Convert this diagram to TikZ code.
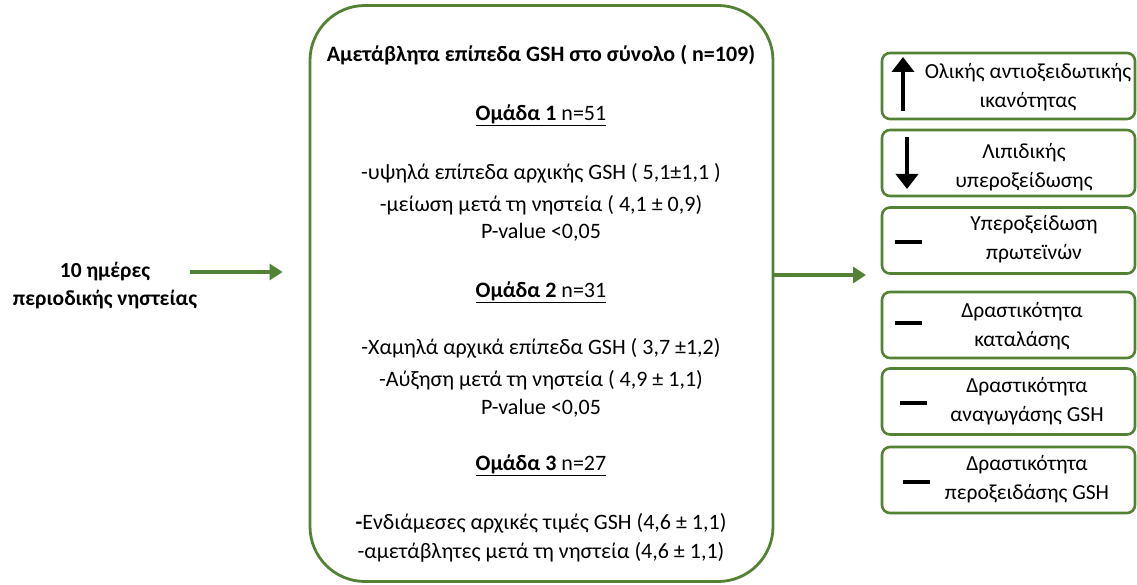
\documentclass[tikz,border=0pt]{standalone}
\usepackage{fontspec}
\setmainfont{Carlito}
\usetikzlibrary{arrows.meta}
\definecolor{BoxClr}{RGB}{84,130,53}

\begin{document}
\begin{tikzpicture}[x=1pt,y=-1pt,
  gline/.style={draw=BoxClr,line width=2.8pt},
  gArrow/.style={BoxClr,line width=3.2pt,-{Triangle[length=13pt,width=16pt]}},
  ctxt/.style={font=\fontsize{22}{26}\selectfont,inner sep=0pt},
  side/.style={gline,line width=2.6pt,rounded corners=8pt,minimum width=253pt,minimum height=66pt},
  sidetxt/.style={font=\fontsize{21.5}{29}\selectfont,align=center,inner sep=0pt},
  sym/.style={line width=4pt},
  symArrow/.style={sym,-{Triangle[length=15pt,width=22pt]}}]
\useasboundingbox (0,0) rectangle (1137,585);

% central box
\node[gline,rounded corners=55pt,minimum width=463pt,minimum height=576pt] (main) at (541.5,293.5) {};

\node[ctxt,font=\fontsize{22}{26}\selectfont\bfseries] (t0) at (541,55) {Αμετάβλητα επίπεδα GSH στο σύνολο ( n=109)};
\node[ctxt] (g1) at (541,115) {\underline{\textbf{Ομάδα 1} n=51}};
\node[ctxt] (a1) at (541,173) {-υψηλά επίπεδα αρχικής GSH ( 5,1±1,1 )};
\node[ctxt] (b1) at (541,205) {-μείωση μετά τη νηστεία ( 4,1 ± 0,9)};
\node[ctxt] (p1) at (541,232) {P-value <0,05};
\node[ctxt] (g2) at (541,292) {\underline{\textbf{Ομάδα 2} n=31}};
\node[ctxt] (a2) at (541,348) {-Χαμηλά αρχικά επίπεδα GSH ( 3,7 ±1,2)};
\node[ctxt] (b2) at (541,380) {-Αύξηση μετά τη νηστεία ( 4,9 ± 1,1)};
\node[ctxt] (p2) at (541,408) {P-value <0,05};
\node[ctxt] (g3) at (541,465) {\underline{\textbf{Ομάδα 3} n=27}};
\node[ctxt] (a3) at (541,523) {\textbf{-}Ενδιάμεσες αρχικές τιμές GSH (4,6 ± 1,1)};
\node[ctxt] (b3) at (541,552) {-αμετάβλητες μετά τη νηστεία (4,6 ± 1,1)};

% left text and arrows
\node[sidetxt,font=\fontsize{21.5}{28}\selectfont\bfseries] (days) at (105,286) {10 ημέρες\\περιοδικής νηστείας};
\coordinate (lstart) at (190,272);
\draw[gArrow,shorten >=26pt] (lstart) -- (main.west |- lstart);
\coordinate (rend) at (866,275);
\draw[gArrow] (main.east |- rend) -- (rend);

% right boxes
\foreach \n/\y in {1/86,2/163,3/240.5,4/325,5/401.5,6/480}
  \node[side] (s\n) at (1008.5,\y) {};
\node[sidetxt] (l1) at (1028,87) {Ολικής αντιοξειδωτικής\\ικανότητας};
\node[sidetxt] (l2) at (1024,167) {Λιπιδικής\\υπεροξείδωσης};
\node[sidetxt] (l3) at (1034,239) {Υπεροξείδωση\\πρωτεϊνών};
\node[sidetxt] (l4) at (1022,326) {Δραστικότητα\\καταλάσης};
\node[sidetxt] (l5) at (1027,401) {Δραστικότητα\\αναγωγάσης GSH};
\node[sidetxt] (l6) at (1027,479) {Δραστικότητα\\περοξειδάσης GSH};

\draw[symArrow] ([xshift=-105.5pt,yshift=-25pt]s1.center) -- ++(0,-54);
\draw[symArrow] ([xshift=-101.5pt,yshift=26pt]s2.center) -- ++(0,52);
\draw[sym] ([xshift=-114pt,yshift=-2pt]s3.center) -- ++(27,0);
\draw[sym] ([xshift=-114pt,yshift=2pt]s4.center) -- ++(27,0);
\draw[sym] ([xshift=-109pt,yshift=-1.5pt]s5.center) -- ++(27,0);
\draw[sym] ([xshift=-106pt,yshift=-2pt]s6.center) -- ++(27,0);
\end{tikzpicture}
\end{document}
